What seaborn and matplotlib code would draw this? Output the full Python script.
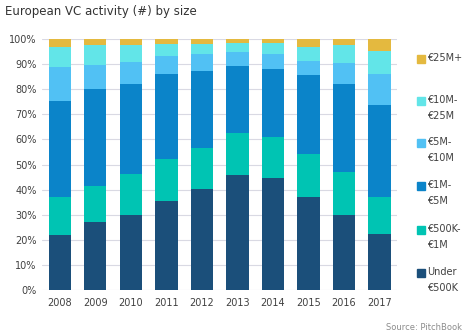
import numpy as np
import pandas as pd
import matplotlib
matplotlib.use("Agg")
import matplotlib.pyplot as plt
import seaborn as sns

years = ["2008", "2009", "2010", "2011", "2012", "2013", "2014", "2015", "2016", "2017"]
under_500k = [22.0, 27.1, 29.9, 35.5, 40.1, 45.9, 44.8, 37.1, 29.9, 22.4]
k500_1m = [15.0, 14.3, 16.2, 16.8, 16.5, 16.5, 16.0, 16.9, 17.0, 14.7]
m1_5 = [38.3, 38.5, 35.8, 33.6, 30.8, 27.0, 27.2, 31.5, 35.0, 36.6]
m5_10 = [13.5, 9.7, 8.9, 7.3, 6.6, 5.6, 6.0, 5.9, 8.7, 12.4]
m10_25 = [8.1, 8.0, 6.7, 4.8, 4.0, 3.3, 4.3, 5.5, 6.9, 9.3]
m25_plus = [3.1, 2.4, 2.5, 2.0, 2.0, 1.7, 1.7, 3.1, 2.5, 4.6]

series_labels = ["Under\n€500K", "€500K-\n€1M", "€1M-\n€5M", "€5M-\n€10M", "€10M-\n€25M", "€25M+"]
series_values = [under_500k, k500_1m, m1_5, m5_10, m10_25, m25_plus]
colors = ["#1B4F7A", "#00C4B3", "#0B84C9", "#51C1F4", "#62E5E8", "#E4B93F"]

sns.set_style("white")
plt.rcParams["font.family"] = ["DejaVu Sans"]

fig = plt.figure(figsize=(4.7, 3.35), dpi=100)
ax = fig.add_axes([0.0894, 0.1343, 0.7556, 0.7493])

cum = np.cumsum(np.array(series_values), axis=0)
# draw from top-most cumulative down so lower segments overlay
for i in range(len(series_values) - 1, -1, -1):
    df = pd.DataFrame({"year": years, "val": cum[i]})
    sns.barplot(data=df, x="year", y="val", color=colors[i], width=0.63,
                saturation=1, ax=ax, linewidth=0, zorder=3)

ax.set_ylim(0, 100)
ax.set_xlim(-0.5, 9.5)
ax.set_yticks(np.arange(0, 101, 10))
ax.set_yticklabels([f"{v}%" for v in range(0, 101, 10)])
ax.yaxis.grid(True, color="#D9D9E3", linewidth=0.8, zorder=0)
ax.set_axisbelow(True)
for s in ax.spines.values():
    s.set_visible(False)
ax.tick_params(axis="both", length=0, labelsize=7, labelcolor="#404040", pad=4)
ax.tick_params(axis="x", pad=6)
ax.set_xlabel("")
ax.set_ylabel("")

fig.text(5 / 470, 1 - 12 / 335, "European VC activity (#) by size", fontsize=8.5,
         color="#333333", va="center", ha="left")
fig.text(462 / 470, 1 - 328 / 335, "Source: PitchBook", fontsize=6, color="#8C8C8C",
         va="center", ha="right")

# legend (manual)
leg_tops = [59, 101, 143, 186, 230, 273]
order = [5, 4, 3, 2, 1, 0]
for top, idx in zip(leg_tops, order):
    fig.patches.append(plt.Rectangle((417 / 470, 1 - (top + 4) / 335), 8 / 470, 8 / 335,
                                     transform=fig.transFigure, color=colors[idx]))
    fig.text(427 / 470, 1 - (top - 6) / 335, series_labels[idx], fontsize=7, color="#404040",
             va="top", ha="left", linespacing=1.75)

fig.savefig("out.png", dpi=100)
